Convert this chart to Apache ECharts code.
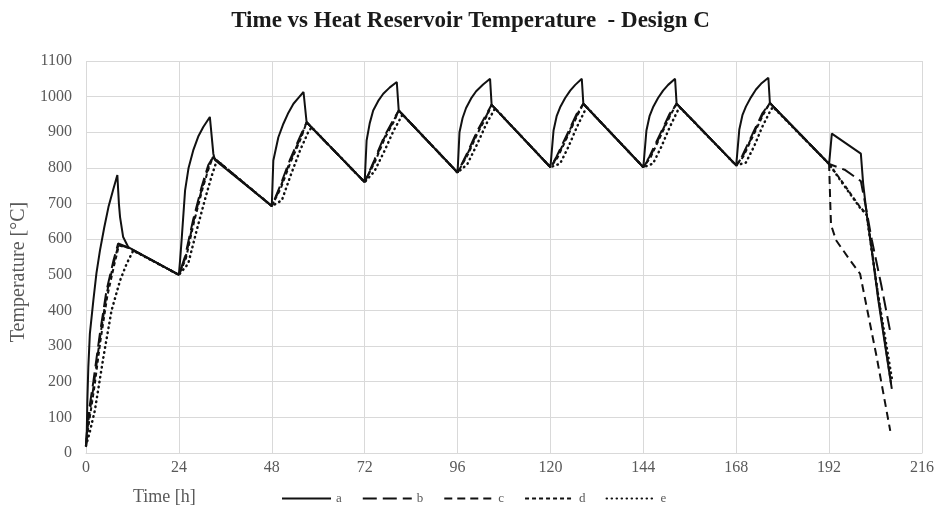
<!doctype html>
<html>

<head>
  <meta charset="UTF-8" />
  <title>Time vs Heat Reservoir Temperature - Design C</title>
  <script src="https://cdn.jsdelivr.net/npm/echarts@6.0.0/dist/echarts.min.js"></script>
  <style>
    html, body { margin: 0; padding: 0; background: #fff; }
    #chart { width: 941px; height: 512px; }
  </style>
</head>

<body>
  <div id="chart"></div>
  <script>
    // time [h], temperature [°C] pairs
    const seriesA = [
      [0, 20], [0.2, 60], [0.35, 148], [0.6, 241], [1, 335], [1.9, 428], [2.7, 505], [3.6, 568], [4.7, 632], [5.8, 690], [7, 738], [8.1, 780],
      [8.5, 700], [8.8, 662], [9.6, 606], [10.9, 578], [24, 500],
      [24.3, 540], [24.7, 597], [25.6, 737], [26.5, 800], [27.7, 849], [29, 888], [30.3, 915], [32, 943], [32.9, 840], [33.3, 822], [48, 693],
      [48.4, 821], [49.7, 886], [51, 924], [52.3, 955], [53.6, 980], [55, 998], [56.2, 1013], [57, 928], [72, 760],
      [72.5, 877], [73.3, 925], [74.2, 961], [75.5, 988], [76.8, 1008], [78.5, 1026], [80.3, 1041], [80.8, 961], [96, 787],
      [96.5, 900], [97.3, 940], [98.2, 968], [99.5, 995], [100.8, 1015], [102.6, 1034], [104.4, 1050], [104.8, 977], [120, 802],
      [120.8, 905], [121.6, 945], [122.5, 970], [123.8, 996], [125.1, 1017], [126.4, 1033], [128.1, 1050], [128.5, 980], [144, 802],
      [144.8, 905], [145.6, 945], [146.5, 970], [147.8, 996], [149.1, 1017], [150.4, 1033], [152.2, 1050], [152.6, 980], [168, 807],
      [168.8, 908], [169.6, 948], [170.5, 972], [171.8, 998], [173.1, 1020], [174.4, 1036], [176.3, 1053], [176.7, 982], [192, 811],
      [192.7, 896], [200.2, 840], [200.8, 756], [201.7, 671], [203.2, 555], [204.7, 430], [206.5, 300], [208.2, 180]
    ];
    const seriesB = [
      [0, 20], [0.5, 100], [1.9, 200], [3.6, 336], [5.3, 456], [7.1, 540], [8.3, 588], [11, 576], [24, 500],
      [25.6, 552], [27.7, 655], [29.9, 748], [31.6, 808], [32.8, 830], [48, 693],
      [50.1, 748], [52.7, 823], [55.3, 888], [57, 928], [72, 760],
      [74.5, 822], [77, 887], [79.5, 937], [80.8, 961], [96, 787],
      [98.5, 842], [101, 902], [103.5, 952], [104.8, 977], [120, 802],
      [121.6, 832], [124.2, 892], [126.8, 952], [128.5, 980], [144, 802],
      [145.6, 832], [148.2, 892], [150.8, 952], [152.6, 980], [168, 807],
      [169.6, 835], [172.2, 895], [174.8, 954], [176.7, 982], [192, 811],
      [196, 795], [200.2, 763], [201.5, 690], [203, 600], [205.5, 470], [207.8, 340]
    ];
    const seriesC = [
      [0, 20], [0.6, 90], [2, 190], [3.7, 330], [5.4, 450], [7.2, 535], [8.4, 585], [11, 576], [24, 500],
      [25.7, 548], [27.8, 651], [30, 744], [31.7, 805], [32.8, 830], [48, 693],
      [50.2, 745], [52.8, 820], [55.4, 885], [57, 928], [72, 760],
      [74.6, 820], [77.1, 885], [79.6, 935], [80.8, 961], [96, 787],
      [98.6, 840], [101.1, 900], [103.6, 950], [104.8, 977], [120, 802],
      [121.7, 830], [124.3, 890], [126.9, 950], [128.5, 980], [144, 802],
      [145.7, 830], [148.3, 890], [150.9, 950], [152.6, 980], [168, 807],
      [169.7, 833], [172.3, 893], [174.9, 952], [176.7, 982], [192, 811],
      [192.3, 700], [192.5, 640], [193.8, 597], [197.4, 541], [200, 503], [201.7, 410], [204.3, 269], [207.8, 62]
    ];
    const seriesD = [
      [0, 20], [0.7, 80], [2.1, 180], [3.8, 320], [5.5, 440], [7.3, 528], [8.5, 582], [11, 576], [24, 500],
      [25.8, 545], [27.9, 648], [30.1, 741], [31.8, 802], [32.8, 830], [48, 693],
      [50.3, 742], [52.9, 817], [55.5, 882], [57, 928], [72, 760],
      [74.7, 818], [77.2, 883], [79.7, 933], [80.8, 961], [96, 787],
      [98.7, 838], [101.2, 898], [103.7, 948], [104.8, 977], [120, 802],
      [121.8, 828], [124.4, 888], [127, 948], [128.5, 980], [144, 802],
      [145.8, 828], [148.4, 888], [151, 948], [152.6, 980], [168, 807],
      [169.8, 831], [172.4, 891], [175, 950], [176.7, 982], [192, 811],
      [195.7, 756], [200, 690], [201.7, 671], [204.7, 440], [208, 195]
    ];
    const seriesE = [
      [0, 20], [1, 60], [2.3, 120], [4.5, 269], [6.6, 400], [8.8, 484], [10.5, 531], [12.2, 568], [24, 500],
      [26.4, 531], [28.6, 625], [30.7, 710], [32.4, 775], [33.8, 821], [48, 693],
      [50.6, 709], [52.7, 774], [55.3, 849], [57.4, 900], [58.3, 914], [72, 760],
      [74.5, 790], [77, 845], [79.5, 905], [81.8, 950], [96, 787],
      [98.5, 810], [101, 865], [103.5, 925], [105.7, 967], [120, 802],
      [122.5, 812], [124.6, 858], [126.8, 914], [128.9, 961], [129.5, 969], [144, 802],
      [146.5, 812], [148.6, 858], [150.8, 914], [152.9, 961], [153.5, 969], [168, 807],
      [170.5, 815], [172.6, 860], [174.8, 917], [176.9, 962], [177.5, 971], [192, 811],
      [195.7, 753], [200, 688], [201.7, 668], [204.7, 440], [208.2, 210]
    ];
    const seriesNames = ['a', 'b', 'c', 'd', 'e'];
    const xTicks = { min: 0, max: 216, step: 24 };
    const yTicks = { min: 0, max: 1100, step: 100 };

    const serif = '"Liberation Serif", "Times New Roman", serif';
    const ink = '#111';
    const labelGrey = '#595959';
    const gridGrey = '#d9d9d9';

    const dashes = {
      a: 'solid',
      b: [14, 6],
      c: [8, 5],
      d: [4, 3],
      e: [0.5, 4.5]
    };
    const allData = { a: seriesA, b: seriesB, c: seriesC, d: seriesD, e: seriesE };

    const chart = echarts.init(document.getElementById('chart'), null, { renderer: 'canvas' });
    chart.setOption({
      animation: false,
      backgroundColor: '#fff',
      title: [
        {
          text: 'Time vs Heat Reservoir Temperature  - Design C',
          left: 'center', top: 5,
          textStyle: { fontFamily: serif, fontWeight: 'bold', fontSize: 23, color: '#1a1a1a' }
        },
        {
          text: 'Time [h]',
          left: 128, top: 483,
          textStyle: { fontFamily: serif, fontWeight: 'normal', fontSize: 18, color: labelGrey }
        }
      ],
      legend: {
        data: seriesNames,
        left: 281, top: 492, padding: 0,
        itemWidth: 49, itemHeight: 14, itemGap: 20,
        itemStyle: { opacity: 0 },
        textStyle: { fontFamily: serif, fontSize: 13, color: labelGrey }
      },
      grid: { left: 86, right: 19, top: 61, bottom: 59 },
      xAxis: {
        type: 'value',
        min: xTicks.min, max: xTicks.max, interval: xTicks.step,
        axisLine: { lineStyle: { color: gridGrey } },
        axisTick: { show: false },
        axisLabel: { fontFamily: serif, fontSize: 16, color: labelGrey, margin: 7 },
        splitLine: { lineStyle: { color: gridGrey, width: 1 } }
      },
      yAxis: {
        type: 'value',
        min: yTicks.min, max: yTicks.max, interval: yTicks.step,
        name: 'Temperature [°C]',
        nameLocation: 'middle',
        nameGap: 55,
        nameTextStyle: { fontFamily: serif, fontSize: 20, color: labelGrey, padding: [0, 30, 0, 0] },
        axisLine: { show: false },
        axisTick: { show: false },
        axisLabel: { fontFamily: serif, fontSize: 16, color: labelGrey, margin: 14, formatter: v => String(v) },
        splitLine: { lineStyle: { color: gridGrey, width: 1 } }
      },
      series: seriesNames.map(n => ({
        name: n,
        type: 'line',
        data: allData[n],
        symbol: 'none',
        smooth: false,
        lineStyle: {
          color: ink,
          width: n === 'e' ? 2.5 : 2,
          type: dashes[n],
          cap: n === 'e' ? 'round' : 'butt'
        },
        itemStyle: { color: ink }
      }))
    });
  </script>
</body>

</html>
